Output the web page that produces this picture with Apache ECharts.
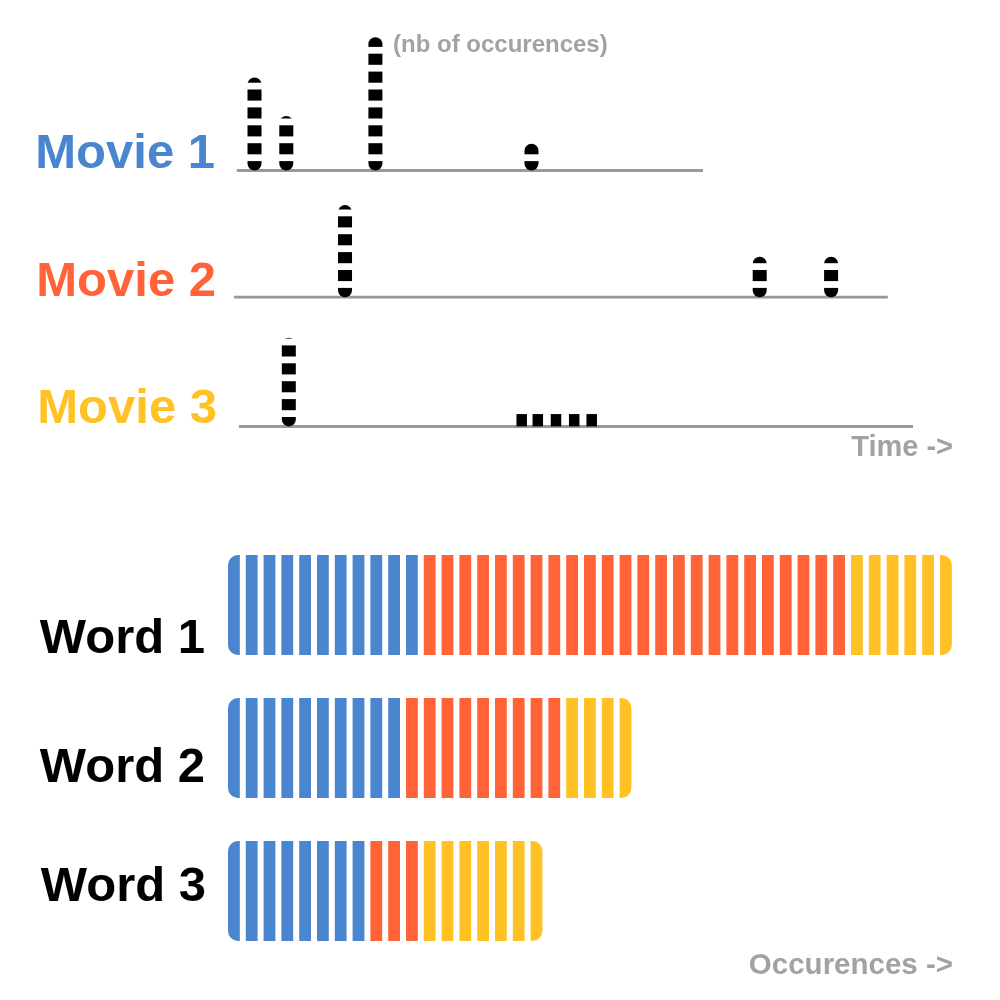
<!DOCTYPE html>
<html>
<head>
<meta charset="utf-8">
<style>
  html, body { margin: 0; padding: 0; background: #fff; }
  #chart { width: 1000px; height: 1000px; }
</style>
<script src="https://cdn.jsdelivr.net/npm/echarts@6/dist/echarts.min.js"></script>
</head>
<body>
<div id="chart"></div>
<script>
// ---------------- DATA ----------------
const movieNames = ['Movie 1', 'Movie 2', 'Movie 3'];
const wordNames = ['Word 1', 'Word 2', 'Word 3'];

// timeline extent of each movie (time units)
const movieStart = [0.4, 0, 0.7];
const movieEnd = [67, 93.4, 97];

// occurrence stacks along each timeline: time position and height (nb of occurrences)
const movie1Times = [2.93, 7.47, 20.2, 42.5];
const movie1Heights = [5.2, 3.05, 7.45, 1.5];
const movie2Times = [15.86, 75.1, 85.3];
const movie2Heights = [5.15, 2.27, 2.27];
const movie3Times = [7.83];
const movie3Heights = [4.95];
// run of single occurrences in movie 3
const movie3RunTimes = [41.1, 43.4, 46.0, 48.6, 51.1];

// occurrences of each word, per movie (Word 1, Word 2, Word 3)
const movie1Counts = [11, 10, 8];
const movie2Counts = [24, 9, 3];
const movie3Counts = [6, 4, 7];

// ---------------- STYLE ----------------
const colors = ['#4A85D0', '#FF6337', '#FFC124'];
const gray = '#999999';
const textGray = '#A2A2A2';
const fontFamily = "'Liberation Sans', Arial, Helvetica, sans-serif";

const unitPx = 17.9;            // px per occurrence in the top panel
const topMax = 8;
const baselines = [170.5, 297.3, 426.4];

const chart = echarts.init(document.getElementById('chart'), null, { renderer: 'canvas' });

function renderStack(params, api) {
  const t = api.value(0), h = api.value(1);
  const base = api.coord([t, 0]);
  const top = api.coord([t, h]);
  const w = 14;
  const children = [{
    type: 'rect',
    shape: { x: base[0] - w / 2, y: top[1], width: w, height: base[1] - top[1], r: w / 2 },
    style: { fill: '#000' }
  }];
  for (let k = 0; k < 50; k++) {
    const c = 0.715 + k;
    const g0 = c - 0.19, g1 = c + 0.19;
    if (g0 >= h) break;
    const yTop = api.coord([t, Math.min(g1, h)])[1];
    const yBot = api.coord([t, g0])[1];
    children.push({
      type: 'rect',
      shape: { x: base[0] - w / 2 - 1, y: yTop - (g1 >= h ? 1 : 0), width: w + 2, height: yBot - yTop + (g1 >= h ? 1 : 0) },
      style: { fill: '#fff' }
    });
  }
  return { type: 'group', children };
}

function renderRun(params, api) {
  const t = api.value(0);
  const base = api.coord([t, 0]);
  const top = api.coord([t, 0.69]);
  const w = 10.5;
  return {
    type: 'rect',
    shape: { x: base[0] - w / 2, y: top[1], width: w, height: base[1] - top[1] },
    style: { fill: '#000' }
  };
}

// build bar data: [start, wordIndex, count, movieIndex, total]
const countsByMovie = [movie1Counts, movie2Counts, movie3Counts];
const barData = [];
for (let w = 0; w < wordNames.length; w++) {
  let cum = 0;
  const total = movie1Counts[w] + movie2Counts[w] + movie3Counts[w];
  for (let m = 0; m < 3; m++) {
    barData.push([cum, w, countsByMovie[m][w], m, total]);
    cum += countsByMovie[m][w];
  }
}

function renderBar(params, api) {
  const start = api.value(0), w = api.value(1), n = api.value(2), m = api.value(3), total = api.value(4);
  const pitch = api.size([1, 0])[0];
  const h = 100;
  const sw = pitch * 11.8 / 17.8;
  const children = [];
  for (let k = 0; k < n; k++) {
    const u = start + k;
    const p = api.coord([u, w]);
    let r = 0;
    if (u === 0) r = [10, 0, 0, 10];
    if (u === total - 1) r = [0, 10, 10, 0];
    children.push({
      type: 'rect',
      shape: { x: p[0], y: p[1] - h / 2, width: sw, height: h, r: r },
      style: { fill: colors[m] }
    });
  }
  return { type: 'group', children };
}

const grids = [];
const xAxes = [];
const yAxes = [];
for (let i = 0; i < 3; i++) {
  grids.push({ left: 234, width: 700, top: baselines[i] - unitPx * topMax, height: unitPx * topMax });
  xAxes.push({ type: 'value', gridIndex: i, min: 0, max: 100, show: false });
  yAxes.push({ type: 'value', gridIndex: i, min: 0, max: topMax, show: false });
}
grids.push({ left: 228, width: 42 * 17.8, top: 533.5, height: 429 });
xAxes.push({ type: 'value', gridIndex: 3, min: 0, max: 42, show: false });
yAxes.push({ type: 'category', gridIndex: 3, data: wordNames, inverse: true, show: false });

const stackTimes = [movie1Times, movie2Times, movie3Times];
const stackHeights = [movie1Heights, movie2Heights, movie3Heights];

const series = [];
for (let i = 0; i < 3; i++) {
  series.push({
    type: 'line', xAxisIndex: i, yAxisIndex: i, silent: true,
    data: [[movieStart[i], 0], [movieEnd[i], 0]],
    symbol: 'none', lineStyle: { color: gray, width: 3 }, z: 1
  });
  series.push({
    type: 'custom', name: movieNames[i], xAxisIndex: i, yAxisIndex: i, silent: true,
    renderItem: renderStack, z: 2,
    data: stackTimes[i].map((t, j) => [t, stackHeights[i][j]])
  });
}
series.push({
  type: 'custom', xAxisIndex: 2, yAxisIndex: 2, silent: true, z: 2,
  renderItem: renderRun,
  data: movie3RunTimes.map(t => [t])
});
series.push({
  type: 'custom', xAxisIndex: 3, yAxisIndex: 3, silent: true, z: 2,
  renderItem: renderBar,
  encode: { x: 0, y: 1 },
  data: barData
});

function txt(text, x, y, size, color, align) {
  return {
    type: 'text', x: x, y: y, silent: true,
    style: {
      text: text, fill: color, font: 'bold ' + size + 'px ' + fontFamily,
      align: align, verticalAlign: 'middle'
    }
  };
}

const labelSize = 49;
const off = 0.31;
const graphics = [
  txt(movieNames[0], 215, 170 - off * labelSize, labelSize, colors[0], 'right'),
  txt(movieNames[1], 216, 298 - off * labelSize, labelSize, colors[1], 'right'),
  txt(movieNames[2], 217, 425 - off * labelSize, labelSize, colors[2], 'right'),
  txt(wordNames[0], 205, 655 - off * labelSize, labelSize, '#000', 'right'),
  txt(wordNames[1], 205, 784 - off * labelSize, labelSize, '#000', 'right'),
  txt(wordNames[2], 206, 903 - off * labelSize, labelSize, '#000', 'right'),
  txt('(nb of occurences)', 393, 53 - off * 24, 24, textGray, 'left'),
  txt('Time ->', 953, 457 - off * 29, 29, textGray, 'right'),
  txt('Occurences ->', 953, 975 - off * 29.5, 29.5, textGray, 'right')
];

chart.setOption({
  animation: false,
  backgroundColor: '#fff',
  grid: grids,
  xAxis: xAxes,
  yAxis: yAxes,
  series: series,
  graphic: graphics
});
</script>
</body>
</html>
